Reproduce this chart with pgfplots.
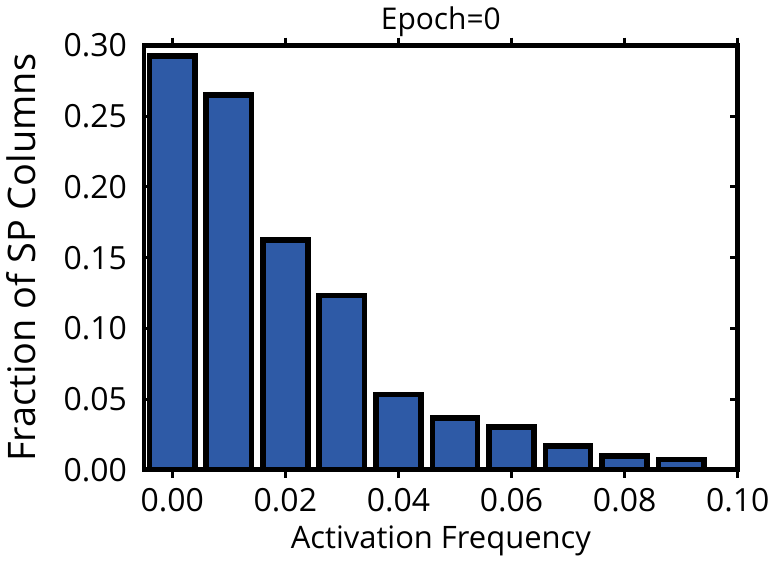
\documentclass[border=0pt]{standalone}
\usepackage{fontspec}
\setmainfont{Open Sans}
\usepackage{pgfplots}
\pgfplotsset{compat=1.18}
\definecolor{barblue}{RGB}{46,90,166}
\begin{document}
\begin{tikzpicture}
\begin{axis}[
  scale only axis,
  width=297.5pt, height=212.5pt,
  xmin=-0.005, xmax=0.10,
  ymin=0, ymax=0.30,
  xtick={0,0.02,0.04,0.06,0.08,0.10},
  ytick={0,0.05,0.10,0.15,0.20,0.25,0.30},
  /pgf/number format/fixed,
  /pgf/number format/fixed zerofill,
  /pgf/number format/precision=2,
  scaled ticks=false,
  /pgf/number format/assume math mode=true,
  tick label style={font=\fontsize{16}{18}\selectfont},
  yticklabel style={xshift=-5pt},
  xticklabel style={yshift=-2pt},
  tick align=inside,
  major tick length=4pt,
  every tick/.style={black, line width=1.5pt},
  axis line style={line width=2.4pt},
  axis on top,
  xlabel={Activation Frequency},
  ylabel={Fraction of SP Columns},
  xlabel style={font=\fontsize{15.5}{18}\selectfont},
  ylabel style={font=\fontsize{19}{22}\selectfont, yshift=7pt},
  title={Epoch=0},
  title style={font=\fontsize{15}{17}\selectfont, yshift=-5pt},
  ybar, bar width=0.0080, bar shift=0pt,
]
\addplot[fill=barblue, draw=black, line width=2.8pt] coordinates {
  (0.00,0.2926) (0.01,0.2650) (0.02,0.1624) (0.03,0.1232) (0.04,0.0533)
  (0.05,0.0364) (0.06,0.0303) (0.07,0.0169) (0.08,0.0095) (0.09,0.0071)
};
\end{axis}
\end{tikzpicture}
\end{document}
